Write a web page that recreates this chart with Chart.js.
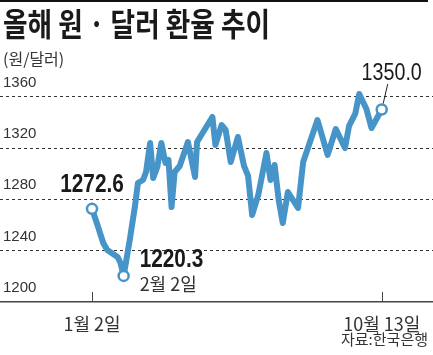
<!DOCTYPE html>
<html><head><meta charset="utf-8">
<script src="https://cdn.jsdelivr.net/npm/chart.js@4.4.0/dist/chart.umd.min.js"></script>
<style>
html,body{margin:0;padding:0;background:#fff;}
#wrap{position:relative;width:433px;height:355px;overflow:hidden;background:#fff;}
#topline{position:absolute;left:0;top:0;width:428px;height:2px;background:#111;}
#title{position:absolute;left:3px;top:2px;font-family:"Noto Sans CJK KR";font-weight:700;font-size:32px;line-height:40px;color:#1a1a1a;white-space:nowrap;transform-origin:0 0;}
#unit{position:absolute;left:3px;top:47px;font-family:"Noto Sans CJK KR";font-size:16px;line-height:22px;color:#333;white-space:nowrap;}
#src{position:absolute;right:5px;top:329px;font-family:"Noto Sans CJK KR";font-size:15px;line-height:20px;color:#333;white-space:nowrap;}
canvas{position:absolute;left:0;top:0;}
</style></head><body>
<div id="wrap">
<canvas id="c" width="433" height="355"></canvas>
<div id="topline"></div>
<div id="title">올해 원 · 달러 환율 추이</div>
<div id="unit">(원/달러)</div>
<div id="src">자료:한국은행</div>
</div>
<script>
// days since Jan 2 (calendar days)
const days = [0,6,11,15,25,28,31,37,42,45,50,53,57,60,64,68,72,75,78,81,86,94,101,103,118,121,127,131,136,143,149,153,157,163,171,175,179,183,187,192,202,207,221,231,239,248,252,258,262,269,274,284];
const rates = [1272.6,1258.5,1246.0,1240.5,1235.1,1230.4,1220.3,1248.3,1274.0,1292.7,1295.1,1301.3,1323.9,1296.6,1305.2,1323.9,1308.3,1310.7,1274.0,1301.3,1306.0,1324.7,1297.4,1324.7,1344.2,1322.4,1337.9,1334.1,1309.1,1328.6,1306.0,1298.2,1267.8,1283.4,1316.1,1295.1,1306.8,1279.5,1261.6,1285.7,1273.3,1309.1,1341.8,1314.6,1334.8,1320.0,1337.2,1346.5,1362.1,1350.4,1335.6,1350.0];
const xTickDays = [0, 284];
const xTickLabels = ['1월 2일', '10월 13일'];
const yTicks = [1200, 1240, 1280, 1320, 1360];
const calloutIndex = [0, 6, 51];
const calloutValue = ['1272.6', '1220.3', '1350.0'];
const calloutDate = ['', '2월 2일', ''];

// styling / placement of callouts (not data)
const calloutStyle = [
  {font:'bold 26px "Liberation Sans"', sx:0.8, align:'center', dx:0, dy:-17},
  {font:'bold 26px "Liberation Sans"', sx:0.8, align:'left', dx:16, dy:-9, sub:{font:'18px "Noto Sans CJK KR"', dx:16, dy:15}},
  {font:'24px "Liberation Sans"', sx:0.82, align:'center', dx:10, dy:-29.5, leader:[6,-25.5,1.5,-6]}
];

const BLUE = '#4694c8';
const pts = days.map((d,i)=>({x:d, y:rates[i]}));

const tickMarks = {
  id:'tickMarks',
  afterDraw(chart){
    const ctx = chart.ctx, xs = chart.scales.x, b = chart.chartArea.bottom;
    ctx.save();
    ctx.strokeStyle = '#444'; ctx.lineWidth = 1;
    xTickDays.forEach(d=>{
      const px = Math.round(xs.getPixelForValue(d)) + 0.5;
      ctx.beginPath(); ctx.moveTo(px, b); ctx.lineTo(px, b-10); ctx.stroke();
    });
    ctx.restore();
  }
};

const callouts = {
  id:'callouts',
  afterDatasetsDraw(chart){
    const ctx = chart.ctx;
    const meta = chart.getDatasetMeta(0);
    ctx.save();
    calloutIndex.forEach((idx,k)=>{
      const p = meta.data[idx]; const st = calloutStyle[k];
      if (st.leader){
        ctx.strokeStyle = '#222'; ctx.lineWidth = 1;
        ctx.beginPath();
        ctx.moveTo(p.x+st.leader[0], p.y+st.leader[1]);
        ctx.lineTo(p.x+st.leader[2], p.y+st.leader[3]);
        ctx.stroke();
      }
      ctx.save();
      ctx.fillStyle = '#1a1a1a';
      ctx.font = st.font; ctx.textAlign = st.align; ctx.textBaseline = 'alphabetic';
      ctx.translate(p.x+st.dx, p.y+st.dy);
      ctx.scale(st.sx, 1);
      ctx.fillText(calloutValue[k], 0, 0);
      ctx.restore();
      if (st.sub && calloutDate[k]){
        ctx.fillStyle = '#333';
        ctx.font = st.sub.font; ctx.textAlign = 'left';
        ctx.fillText(calloutDate[k], p.x+st.sub.dx, p.y+st.sub.dy);
      }
    });
    ctx.restore();
  }
};

const chart = new Chart(document.getElementById('c'), {
  type:'line',
  data:{datasets:[{
    data: pts,
    borderColor: BLUE,
    borderWidth: 6,
    borderJoinStyle:'round',
    borderCapStyle:'round',
    tension:0,
    pointRadius: ctx => calloutIndex.includes(ctx.dataIndex) ? 5 : 0,
    pointHoverRadius: 0,
    pointBackgroundColor:'#fff',
    pointBorderColor: BLUE,
    pointBorderWidth: 2.5
  }]},
  options:{
    responsive:false,
    animation:false,
    devicePixelRatio:1,
    layout:{autoPadding:false, padding:{top:71,left:0,right:0,bottom:0}},
    plugins:{legend:{display:false}, tooltip:{enabled:false}, title:{display:false}},
    scales:{
      x:{
        type:'linear', min:-90.19, max:334.28,
        afterBuildTicks(s){ s.ticks = xTickDays.map(v=>({value:v})); },
        afterFit(s){ s.height = 53; s.paddingLeft = 0; s.paddingRight = 0; },
        grid:{display:false, drawTicks:false},
        border:{display:true, color:'#444', width:1.5},
        ticks:{autoSkip:false, maxRotation:0, padding:11, color:'#333',
          font:{family:'"Noto Sans CJK KR"', size:18},
          callback:(v,i)=>xTickLabels[i]}
      },
      y:{
        type:'linear', min:1200, max:1380,
        afterBuildTicks(s){ s.ticks = yTicks.map(v=>({value:v})); },
        afterFit(s){ s.width = 0; s.paddingTop = 0; s.paddingBottom = 0; },
        grid:{drawTicks:false, color: c => (c.tick && c.tick.value === 1200) ? 'rgba(0,0,0,0)' : '#333', lineWidth:1},
        border:{display:false, dash:[3,3]},
        ticks:{mirror:true, padding:3, labelOffset:-14, color:'#333',
          font:{family:'"Liberation Sans"', size:15},
          callback:v=>String(v)}
      }
    }
  },
  plugins:[tickMarks, callouts]
});

// condense the title to the reference width
const t = document.getElementById('title');
const w = t.getBoundingClientRect().width;
t.style.transform = 'scaleX(' + (267 / w) + ')';
</script>
</body></html>
